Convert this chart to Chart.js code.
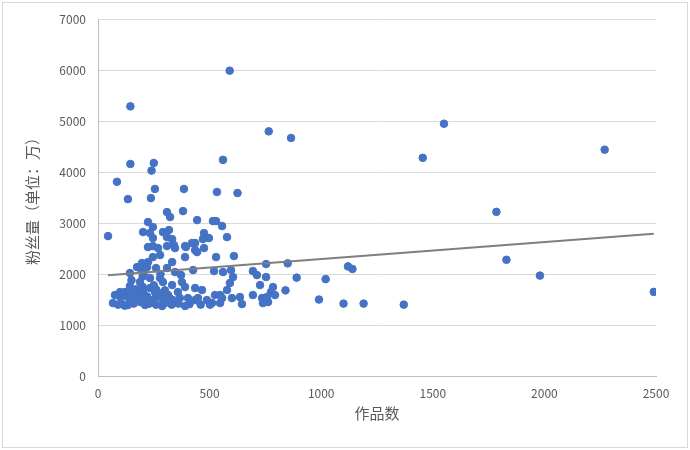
<!DOCTYPE html>
<html>
<head>
<meta charset="utf-8">
<script src="https://cdn.jsdelivr.net/npm/chart.js@4/dist/chart.umd.min.js"></script>
<style>
  body { margin: 0; background: #fff; }
</style>
</head>
<body>
<canvas id="chart" width="690" height="450"></canvas>
<script>
// 作品数 (x) 和 粉丝量 (y, 单位: 万)
const worksCount = [
  145, 590, 765, 865, 1550, 1455, 2270, 1785, 1830, 1980, 2490, 1370, 1190, 1100, 990, 1020, 1120, 1140, 890, 840, 850,
  145, 250, 240, 85, 134, 255, 237, 385, 560, 533, 625,
  309, 323, 381, 444, 224, 246, 202, 233, 246, 291, 318, 309, 332, 45, 224, 246, 309, 340, 390, 421,
  515, 529, 556, 475, 470, 497, 578, 475, 435,
  269, 345, 394, 435, 246, 278, 332, 390, 224, 197, 175, 188, 220, 260, 309, 143, 206, 345, 372, 426,
  143, 188, 233, 278, 233, 291, 332, 376, 358, 390, 435, 99, 121, 76, 152, 179, 202, 255, 287, 314,
  211, 242, 143, 175, 336, 367, 403, 435, 67, 108, 134, 211, 287, 390,
  529, 609, 444, 520, 560, 596, 605, 694, 712, 753, 753, 591, 578, 726, 784, 775, 466, 448, 488,
  524, 547, 556, 600, 636, 694, 735, 757, 793, 511, 547, 645, 739, 762, 502,
  90, 120, 160, 190, 230, 260, 300, 330, 360, 410, 460, 100, 130, 160, 190, 220, 260, 290, 320,
  170, 200, 260, 300, 150, 200, 250, 280, 160
];
const fansCount = [
  5290, 5990, 4800, 4670, 4950, 4280, 4440, 3220, 2280, 1970, 1650, 1400, 1420, 1420, 1500, 1900, 2150, 2100, 1930, 1680, 2210,
  4160, 4180, 4030, 3810, 3470, 3670, 3490, 3670, 4240, 3610, 3590,
  3216, 3118, 3235, 3059, 3020, 2922, 2824, 2804, 2706, 2824, 2863, 2725, 2686, 2745, 2530, 2549, 2549, 2569, 2549, 2608,
  3039, 3039, 2941, 2804, 2686, 2706, 2725, 2510, 2608,
  2510, 2510, 2530, 2471, 2333, 2373, 2235, 2333, 2235, 2216, 2137, 2118, 2137, 2118, 2118, 2020, 2039, 2039, 1980, 2078,
  1765, 1843, 1922, 1922, 1725, 1843, 1784, 1843, 1647, 1745, 1725, 1647, 1647, 1588, 1627, 1627, 1647, 1647, 1627, 1588,
  1529, 1490, 1490, 1490, 1490, 1529, 1529, 1490, 1431, 1412, 1392, 1392, 1373, 1373,
  2333, 2353, 2431, 2059, 2039, 2078, 1941, 2059, 1980, 1941, 2196, 1824, 1686, 1784, 1745, 1647, 1686, 1529, 1490,
  1588, 1588, 1529, 1529, 1549, 1588, 1529, 1549, 1588, 1431, 1431, 1412, 1431, 1451, 1400,
  1400, 1380, 1420, 1450, 1420, 1400, 1430, 1400, 1420, 1410, 1400, 1550, 1560, 1600, 1580, 1560, 1550, 1500, 1530,
  1700, 1750, 1700, 1680, 1880, 1950, 1780, 2000, 1680
];
// 线性趋势线端点
const trendX = [45, 2490];
const trendY = [1975, 2790];

const xTicks = [0, 500, 1000, 1500, 2000, 2500];
const yTicks = [0, 1000, 2000, 3000, 4000, 5000, 6000, 7000];

const points = worksCount.map((x, i) => ({ x: x, y: fansCount[i] }));
const trend = trendX.map((x, i) => ({ x: x, y: trendY[i] }));

const frame = {
  id: 'frame',
  beforeDraw(chart) {
    const c = chart.ctx;
    c.save();
    c.fillStyle = '#fff';
    c.fillRect(0, 0, chart.width, chart.height);
    c.strokeStyle = '#d9d9d9';
    c.lineWidth = 1;
    c.strokeRect(2.5, 2.5, chart.width - 5, chart.height - 5);
    c.restore();
  }
};

const tickFont = { family: "'Noto Sans CJK SC', 'Liberation Sans', sans-serif", size: 12 };
const titleFont = { family: "'Noto Sans CJK SC', sans-serif", size: 15 };

new Chart(document.getElementById('chart'), {
  type: 'scatter',
  data: {
    datasets: [
      {
        data: points,
        backgroundColor: '#4472c4',
        borderColor: '#4472c4',
        pointRadius: 3.8,
        pointHoverRadius: 3.8,
        order: 2
      },
      {
        type: 'line',
        data: trend,
        borderColor: '#7f7f7f',
        borderWidth: 2,
        pointRadius: 0,
        fill: false,
        order: 1
      }
    ]
  },
  options: {
    responsive: false,
    animation: false,
    layout: { padding: { left: 23, right: 34, top: 19, bottom: 28 } },
    plugins: {
      legend: { display: false },
      tooltip: { enabled: false }
    },
    scales: {
      x: {
        type: 'linear',
        min: 0,
        max: 2500,
        afterBuildTicks: s => { s.ticks = xTicks.map(v => ({ value: v })); },
        afterFit: s => { s.height = 46; },
        grid: { display: false },
        border: { display: true, color: '#bfbfbf', width: 1 },
        ticks: { color: '#595959', font: tickFont, padding: 2, callback: v => String(v) },
        title: { display: true, text: '作品数', color: '#595959', font: titleFont, padding: { top: 0, bottom: 0 } }
      },
      y: {
        type: 'linear',
        min: 0,
        max: 7000,
        afterBuildTicks: s => { s.ticks = yTicks.map(v => ({ value: v })); },
        afterFit: s => { s.width = 75; },
        grid: { color: '#d9d9d9', drawTicks: false },
        border: { display: true, color: '#bfbfbf', width: 1 },
        ticks: { color: '#595959', font: tickFont, padding: 12, callback: v => String(v) },
        title: { display: true, text: '粉丝量（单位：万）', color: '#595959', font: titleFont, padding: { top: 0, bottom: 4 } }
      }
    }
  },
  plugins: [frame]
});
</script>
</body>
</html>
